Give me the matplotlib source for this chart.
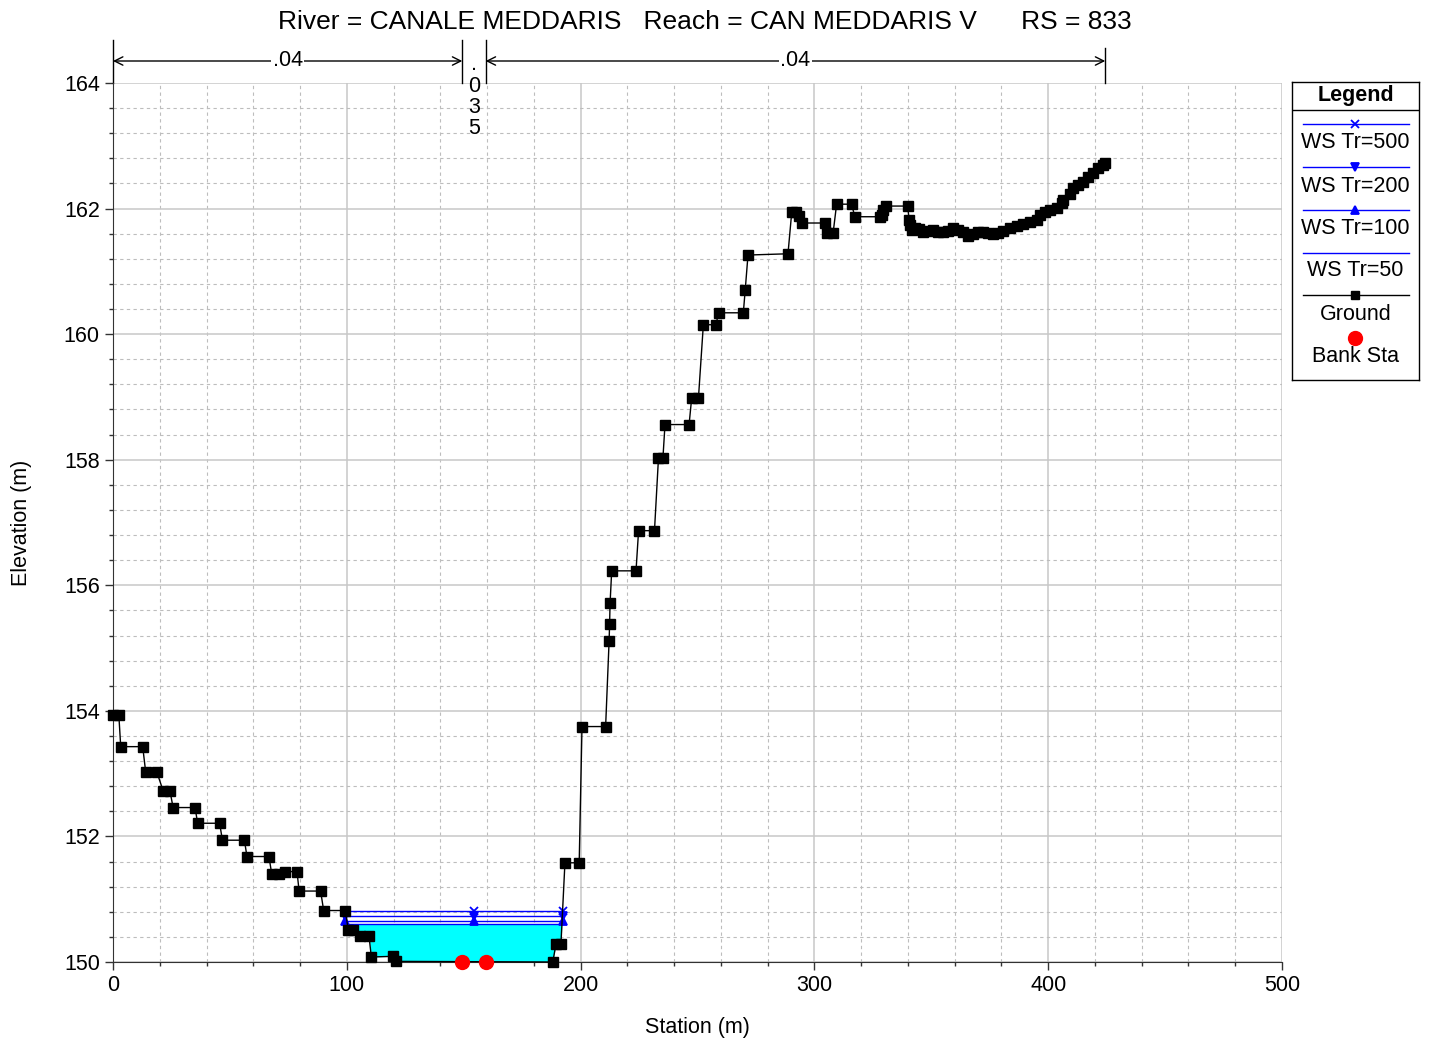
import numpy as np
import matplotlib
matplotlib.use('Agg')
import matplotlib.pyplot as plt
from matplotlib.ticker import MultipleLocator

plt.rcParams['font.family'] = ['Liberation Sans', 'DejaVu Sans']

# ground profile (station, elevation)
ground_x = [0, 2.5, 3.3, 12.7, 14.0, 18.8, 21.5, 24.4, 25.7, 35.1, 36.2, 45.6,
            46.8, 56.2, 57.3, 66.7, 67.9, 71.0, 73.6, 78.7, 79.6, 88.8, 90.1, 99.4,
            100.6, 102.8, 105.6, 109.5, 110.5, 119.6, 120.9, 188.1, 189.5, 191.6,
            193.3, 199.4, 200.6, 210.7, 212.2, 212.4, 212.6, 213.3, 223.7, 224.8,
            231.6, 233.3, 235.2, 236.1, 246.4, 247.5, 250.4, 252.5, 257.9, 259.0,
            269.6, 270.4, 271.6, 288.7, 290.3, 292.0, 293.4, 294.5, 304.5, 305.3,
            308.0, 309.5, 315.9, 317.3, 328.0, 328.7, 329.4, 330.6, 339.9, 340.5,
            340.9, 341.6, 343.0, 344.7, 346.6, 348.7, 350.8, 353.0, 355.1, 357.3,
            359.4, 361.5, 363.7, 365.8, 368.0, 370.1, 372.3, 374.4, 376.5, 378.7,
            380.8, 383.7, 386.5, 389.4, 392.2, 395.1, 396.5, 398.6, 400.8, 403.6,
            405.8, 406.5, 409.3, 410.7, 412.9, 415.0, 417.2, 419.3, 421.4, 423.6,
            424.5]
ground_y = [153.93, 153.93, 153.43, 153.43, 153.02, 153.02, 152.72, 152.72, 152.46,
            152.46, 152.21, 152.21, 151.94, 151.94, 151.68, 151.68, 151.40, 151.40,
            151.44, 151.44, 151.13, 151.13, 150.82, 150.82, 150.51, 150.51, 150.41,
            150.41, 150.08, 150.09, 150.01, 150.00, 150.29, 150.29, 151.58, 151.58,
            153.75, 153.75, 155.12, 155.38, 155.71, 156.23, 156.23, 156.87, 156.87,
            158.02, 158.02, 158.56, 158.56, 158.98, 158.98, 160.15, 160.15, 160.34,
            160.34, 160.70, 161.26, 161.28, 161.94, 161.94, 161.88, 161.77, 161.77,
            161.61, 161.61, 162.07, 162.07, 161.87, 161.87, 161.90, 161.98, 162.04,
            162.04, 161.82, 161.74, 161.66, 161.69, 161.67, 161.63, 161.65, 161.66,
            161.63, 161.62, 161.65, 161.69, 161.66, 161.62, 161.56, 161.60, 161.63,
            161.63, 161.61, 161.60, 161.61, 161.64, 161.69, 161.72, 161.75, 161.78,
            161.82, 161.90, 161.94, 161.97, 162.01, 162.09, 162.14, 162.24, 162.32,
            162.37, 162.43, 162.51, 162.57, 162.64, 162.69, 162.73]

# water surfaces
ws_names = ['WS Tr=500', 'WS Tr=200', 'WS Tr=100', 'WS Tr=50']
ws_elev = [150.82, 150.73, 150.66, 150.60]
ws_markers = ['x', 'v', '^', None]
ws_x = [99.3, 154.4, 192.6]   # left edge, mid marker, right edge

bank_sta = [149.4, 159.4]
bank_elev = [150.0, 150.0]

# manning's n regions
n_bounds = [0, 149.4, 159.4, 424.4]
n_values = ['.04', '.035', '.04']

FS = 15.5
W, H = 1430, 1042
fig = plt.figure(figsize=(W / 100, H / 100), dpi=100)
L, R, T, B = 113, 1282, 83, 962
ax = fig.add_axes([L / W, 1 - B / H, (R - L) / W, (B - T) / H])

ax.set_xlim(0, 500)
ax.set_ylim(150, 164)
ax.xaxis.set_major_locator(MultipleLocator(100))
ax.xaxis.set_minor_locator(MultipleLocator(20))
ax.yaxis.set_major_locator(MultipleLocator(2))
ax.yaxis.set_minor_locator(MultipleLocator(0.4))
ax.grid(which='major', color='#c8c8c8', lw=1.1, ls='-')
ax.grid(which='minor', color='#bdbdbd', lw=0.8, ls=(0, (3, 3)))
ax.set_axisbelow(True)
ax.tick_params(which='major', length=6, width=1, labelsize=FS, color='#333333')
ax.tick_params(which='minor', length=3, width=1, color='#333333')
for s in ['top', 'right']:
    ax.spines[s].set_visible(False)
for s in ['left', 'bottom']:
    ax.spines[s].set_color('#333333')

# water fill under lowest WS
xf = np.linspace(ws_x[0], ws_x[-1], 800)
gf = np.interp(xf, ground_x, ground_y)
ax.fill_between(xf, gf, ws_elev[-1], where=gf < ws_elev[-1], interpolate=True,
                color='#00ffff', lw=0, zorder=2)

for name, z, m in zip(ws_names, ws_elev, ws_markers):
    ax.plot([ws_x[0], ws_x[-1]], [z, z], color='#0000ff', lw=1, zorder=3)
    if m:
        ax.plot(ws_x, [z] * len(ws_x), ls='none', marker=m, color='#0000ff',
                ms=6, mew=1.3, zorder=4)

ax.plot(ground_x, ground_y, color='black', lw=1, marker='s', ms=6.5, zorder=5,
        clip_on=False)
ax.plot(bank_sta, bank_elev, ls='none', marker='o', color='#ff0000', ms=10,
        zorder=6, clip_on=False)

ax.set_xlabel('Station (m)', fontsize=FS, labelpad=15)
ax.set_ylabel('Elevation (m)', fontsize=FS, labelpad=23)

fig.text(705 / W, 1 - 22 / H,
         'River = CANALE MEDDARIS   Reach = CAN MEDDARIS V      RS = 833',
         ha='center', va='center', fontsize=19)

# manning's n annotation above the plot
trans = ax.get_xaxis_transform()


def fy(px):
    return 1 + (T - px) / (B - T)


y_arrow = fy(61)
for xb in n_bounds:
    top = fy(40) if xb < 400 else fy(48)
    ax.plot([xb, xb], [1.0, top], transform=trans, color='black', lw=1,
            clip_on=False)
for i, nv in enumerate(n_values):
    x0, x1 = n_bounds[i], n_bounds[i + 1]
    xm = (x0 + x1) / 2
    if x1 - x0 > 30:
        ax.annotate('', xy=(x1, y_arrow), xytext=(x0, y_arrow), xycoords=trans,
                    textcoords=trans,
                    arrowprops=dict(arrowstyle='<->', lw=1, color='black',
                                    shrinkA=0, shrinkB=0, mutation_scale=15))
        ax.text(xm, y_arrow, nv, transform=trans, ha='center', va='center',
                fontsize=FS, bbox=dict(fc='white', ec='none', pad=1))
    else:
        for k, ch in enumerate(nv):
            ax.text(xm, fy(70 + 21.5 * k), ch, transform=trans, ha='center',
                    va='baseline', fontsize=FS)

# legend drawn as its own box
lx0, lx1, ly0, ly1 = 1292, 1419, 82, 380
lax = fig.add_axes([lx0 / W, 1 - ly1 / H, (lx1 - lx0) / W, (ly1 - ly0) / H])
lax.set_xlim(lx0, lx1)
lax.set_ylim(ly1, ly0)
lax.set_xticks([])
lax.set_yticks([])
for s in lax.spines.values():
    s.set_color('black')
    s.set_linewidth(1)
lax.text(1355.5, 96, 'Legend', ha='center', va='center', fontsize=FS,
         fontweight='bold')
lax.plot([lx0, lx1], [110, 110], color='black', lw=1)
cx = 1355.5
rows = [(124, 143), (167, 186), (210, 229), (253, 271)]
for (ly, ty), name, m in zip(rows, ws_names, ws_markers):
    lax.plot([1303, 1409], [ly, ly], color='#0000ff', lw=1)
    if m:
        lax.plot([cx], [ly], marker=m, color='#0000ff', ms=6, mew=1.3)
    lax.text(cx, ty, name, ha='center', va='center', fontsize=FS)
lax.plot([1303, 1409], [295, 295], color='black', lw=1)
lax.plot([cx], [295], marker='s', color='black', ms=6)
lax.text(cx, 314, 'Ground', ha='center', va='center', fontsize=FS)
lax.plot([cx], [338], marker='o', color='#ff0000', ms=10, ls='none')
lax.text(cx, 357, 'Bank Sta', ha='center', va='center', fontsize=FS)

fig.savefig('out.png', dpi=100)
